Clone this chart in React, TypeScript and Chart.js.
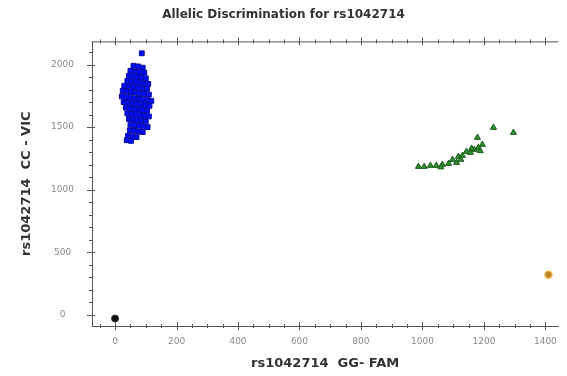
import React, { useEffect, useRef } from "react";
import { Chart, registerables } from "chart.js";

Chart.register(...registerables);

const TITLE = "Allelic Discrimination for rs1042714";
const X_TITLE = "rs1042714  GG- FAM";
const Y_TITLE = "rs1042714  CC - VIC";

const X_TICKS = [0, 200, 400, 600, 800, 1000, 1200, 1400];
const Y_TICKS = [0, 500, 1000, 1500, 2000];

// VIC homozygous cluster (blue squares)
const blueX = [87, 60, 75, 90, 50, 65, 80, 95, 45, 58, 72, 86, 100, 40, 55, 68, 82, 96, 108, 30, 45, 60, 75, 90, 104, 25, 38, 52, 66, 80, 94, 110, 22, 36, 50, 64, 78, 92, 106, 118, 28, 42, 56, 70, 84, 98, 112, 35, 48, 62, 76, 90, 104, 40, 54, 68, 82, 96, 110, 45, 58, 72, 86, 100, 50, 64, 78, 92, 106, 48, 62, 76, 90, 42, 56, 70, 38, 52];
const blueY = [2090, 1990, 1985, 1975, 1950, 1945, 1940, 1935, 1910, 1905, 1900, 1895, 1890, 1870, 1865, 1860, 1855, 1850, 1845, 1830, 1825, 1820, 1815, 1810, 1805, 1790, 1785, 1780, 1775, 1770, 1765, 1760, 1745, 1740, 1735, 1730, 1725, 1720, 1715, 1710, 1700, 1695, 1690, 1685, 1680, 1675, 1670, 1655, 1650, 1645, 1640, 1635, 1630, 1610, 1605, 1600, 1595, 1590, 1585, 1565, 1560, 1555, 1550, 1545, 1520, 1515, 1510, 1505, 1500, 1475, 1470, 1465, 1460, 1430, 1425, 1420, 1395, 1390];

// Heterozygous cluster (green triangles)
const greenX = [987, 1006, 1026, 1045, 1065, 1085, 1098, 1111, 1117, 1130, 1143, 1156, 1169, 1182, 1195, 1179, 1231, 1296, 1060, 1125, 1160, 1188];
const greenY = [1184, 1184, 1192, 1192, 1200, 1208, 1240, 1216, 1264, 1272, 1304, 1296, 1320, 1336, 1360, 1416, 1496, 1456, 1180, 1240, 1330, 1310];

// Undetermined (orange) and NTC (black)
const orangeX = [1410];
const orangeY = [320];
const blackX = [0];
const blackY = [-30];

const toPts = (xs: number[], ys: number[]) => xs.map((x, i) => ({ x, y: ys[i] }));

const minorTicks = {
  id: "minorTicks",
  afterDraw(chart: any) {
    const { ctx, chartArea } = chart;
    const xs = chart.scales.x;
    const ys = chart.scales.y;
    ctx.save();
    ctx.strokeStyle = "#555";
    ctx.lineWidth = 1;
    ctx.beginPath();
    ctx.moveTo(chartArea.left, chartArea.top + 0.5);
    ctx.lineTo(chartArea.right, chartArea.top + 0.5);
    ctx.stroke();
    for (let v = -50; v <= 1450; v += 50) {
      const px = Math.round(xs.getPixelForValue(v)) + 0.5;
      if (px < chartArea.left || px > chartArea.right) continue;
      const major = v % 200 === 0;
      const l = major ? 4 : 2;
      ctx.beginPath();
      ctx.moveTo(px, chartArea.bottom - l);
      ctx.lineTo(px, chartArea.bottom + l);
      ctx.moveTo(px, chartArea.top - l);
      ctx.lineTo(px, chartArea.top + l);
      ctx.stroke();
    }
    for (let v = 0; v <= 2100; v += 100) {
      const py = Math.round(ys.getPixelForValue(v)) + 0.5;
      if (py < chartArea.top || py > chartArea.bottom) continue;
      const major = v % 500 === 0;
      const l = major ? 4 : 2;
      ctx.beginPath();
      ctx.moveTo(chartArea.left - l - 1, py);
      ctx.lineTo(chartArea.left + l - 1, py);
      ctx.stroke();
    }
    ctx.restore();
  },
};

export default function App() {
  const ref = useRef<HTMLCanvasElement | null>(null);
  useEffect(() => {
    document.body.style.margin = "0";
    const chart = new Chart(ref.current as HTMLCanvasElement, {
      type: "scatter",
      data: {
        datasets: [
          {
            label: "VIC",
            data: toPts(blueX, blueY),
            pointStyle: "rect",
            radius: 3.4,
            backgroundColor: "#0010f5",
            borderColor: "#0a0aa0",
            borderWidth: 1,
          },
          {
            label: "Both",
            data: toPts(greenX, greenY),
            pointStyle: "triangle",
            radius: 3.5,
            backgroundColor: "#2f8f2f",
            borderColor: "#1c5a1c",
            borderWidth: 1,
          },
          {
            label: "Undetermined",
            data: toPts(orangeX, orangeY),
            pointStyle: "circle",
            radius: 3.5,
            backgroundColor: "#b88428",
            borderColor: "#f2b040",
            borderWidth: 1.5,
          },
          {
            label: "NTC",
            data: toPts(blackX, blackY),
            pointStyle: "circle",
            radius: 3.5,
            backgroundColor: "#111",
            borderColor: "#333",
            borderWidth: 1,
          },
        ],
      },
      options: {
        animation: false,
        responsive: false,
        layout: { padding: { left: 0, right: 0, top: 0, bottom: 0 } },
        plugins: {
          legend: { display: false },
          tooltip: { enabled: false },
          title: {
            display: true,
            text: TITLE,
            color: "#333",
            font: { family: "DejaVu Sans", size: 12, weight: "bold" },
            padding: { top: 8, bottom: 19 },
          },
        },
        scales: {
          x: {
            type: "linear",
            min: -75,
            max: 1442,
            afterBuildTicks: (s: any) => {
              s.ticks = X_TICKS.map((v) => ({ value: v }));
            },
            afterFit: (s: any) => {
              s.height = 50;
            },
            grid: { display: false, drawTicks: false },
            border: { display: true, color: "#555", width: 1 },
            ticks: {
              color: "#8a8a8a",
              padding: 10,
              maxRotation: 0,
              callback: (v: any) => String(v),
              font: { family: "DejaVu Sans", size: 9 },
            },
            title: {
              display: true,
              text: X_TITLE,
              color: "#333",
              font: { family: "DejaVu Sans", size: 13, weight: "bold" },
              padding: { top: 5, bottom: 5 },
            },
          },
          y: {
            type: "linear",
            min: -90,
            max: 2185,
            afterBuildTicks: (s: any) => {
              s.ticks = Y_TICKS.map((v) => ({ value: v }));
            },
            afterFit: (s: any) => {
              s.width = 92;
            },
            grid: { display: false, drawTicks: false },
            border: { display: true, color: "#555", width: 1 },
            ticks: {
              color: "#8a8a8a",
              padding: 18,
              crossAlign: "center",
              callback: (v: any) => String(v),
              font: { family: "DejaVu Sans", size: 9 },
            },
            title: {
              display: true,
              text: Y_TITLE,
              color: "#333",
              font: { family: "DejaVu Sans", size: 13, weight: "bold" },
              padding: { top: 19, bottom: 0 },
            },
          },
        },
      },
      plugins: [minorTicks],
    } as any);
    return () => chart.destroy();
  }, []);
  return <canvas ref={ref} width={567} height={376} style={{ display: "block" }} />;
}
